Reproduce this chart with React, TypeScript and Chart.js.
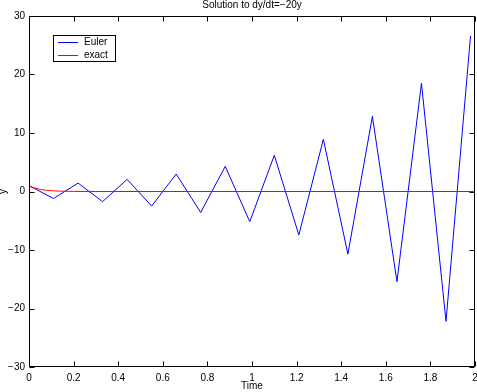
import React, { useEffect, useRef } from "react";
import { Chart, registerables } from "chart.js";

Chart.register(...registerables);

const eulerT = [0, 0.11, 0.22, 0.33, 0.44, 0.55, 0.66, 0.77, 0.88, 0.99, 1.1, 1.21, 1.32, 1.43, 1.54, 1.65, 1.76, 1.87, 1.98];
const eulerY = [1, -1.2, 1.44, -1.73, 2.07, -2.49, 2.99, -3.58, 4.3, -5.16, 6.19, -7.43, 8.92, -10.7, 12.84, -15.41, 18.49, -22.19, 26.62];
const exactT = [0, 0.01, 0.02, 0.03, 0.04, 0.05, 0.06, 0.07, 0.08, 0.09, 0.1, 0.12, 0.14, 0.16, 0.18, 0.2, 0.3, 2.0];
const exactY = [1, 0.819, 0.67, 0.549, 0.449, 0.368, 0.301, 0.247, 0.202, 0.165, 0.135, 0.091, 0.061, 0.041, 0.027, 0.018, 0.0025, 0];
const xTickLabels = ["0", "0.2", "0.4", "0.6", "0.8", "1", "1.2", "1.4", "1.6", "1.8", "2"];
const yTickLabels = ["\u221230", "\u221220", "\u221210", "0", "10", "20", "30"];
const seriesNames = ["Euler", "exact"];
const seriesColors = ["#0000ff", "#ff0000"];
const titleText = "Solution to dy/dt=\u221220y";
const xTitle = "Time";
const yTitle = "y";

const FONT = "Helvetica, 'Liberation Sans', Arial, sans-serif";

const framePlugin = {
  id: "frame",
  afterDraw(chart: any) {
    const ctx = chart.ctx;
    const a = chart.chartArea;
    const xs = chart.scales.x;
    const ys = chart.scales.y;
    ctx.save();
    ctx.strokeStyle = "#000";
    ctx.lineWidth = 1;
    const L = Math.round(a.left) + 0.5;
    const R = Math.round(a.right) - 0.5;
    const T = Math.round(a.top) + 0.5;
    const B = Math.round(a.bottom) - 0.5;
    ctx.beginPath();
    ctx.rect(L, T, R - L, B - T);
    ctx.stroke();
    const tl = 5;
    ctx.beginPath();
    xs.ticks.forEach((t: any) => {
      const px = Math.round(xs.getPixelForValue(t.value)) + 0.5;
      ctx.moveTo(px, B);
      ctx.lineTo(px, B - tl);
      ctx.moveTo(px, T);
      ctx.lineTo(px, T + tl);
    });
    ys.ticks.forEach((t: any) => {
      const py = Math.round(ys.getPixelForValue(t.value)) + 0.5;
      ctx.moveTo(L, py);
      ctx.lineTo(L + tl, py);
      ctx.moveTo(R, py);
      ctx.lineTo(R - tl, py);
    });
    ctx.stroke();

    // title
    ctx.fillStyle = "#000";
    ctx.font = `10px ${FONT}`;
    ctx.textAlign = "center";
    ctx.textBaseline = "middle";
    ctx.fillText(titleText, (a.left + a.right) / 2, 5);

    // legend
    const lx = 53.5, ly = 35.5, lw = 62, lh = 26;
    ctx.fillStyle = "#fff";
    ctx.fillRect(lx, ly, lw, lh);
    ctx.strokeStyle = "#000";
    ctx.strokeRect(lx, ly, lw, lh);
    seriesNames.forEach((name, i) => {
      const yy = 42 + i * 13;
      ctx.fillStyle = seriesColors[i];
      ctx.fillRect(58, yy, 20, 1);
      ctx.fillStyle = "#000";
      ctx.textAlign = "left";
      ctx.textBaseline = "middle";
      ctx.fillText(name, 84, yy + 0.5);
    });
    ctx.restore();
  },
};

export default function App() {
  const ref = useRef<HTMLCanvasElement | null>(null);
  useEffect(() => {
    if (!ref.current) return;
    const chart = new Chart(ref.current, {
      type: "line",
      data: {
        datasets: [
          {
            label: seriesNames[0],
            data: eulerT.map((t, i) => ({ x: t, y: eulerY[i] })),
            borderColor: seriesColors[0],
            borderWidth: 1,
            pointRadius: 0,
            tension: 0,
            order: 1,
          },
          {
            label: seriesNames[1],
            data: exactT.map((t, i) => ({ x: t, y: exactY[i] })),
            borderColor: seriesColors[1],
            borderWidth: 1,
            pointRadius: 0,
            tension: 0,
            order: 0,
          },
        ],
      },
      options: {
        responsive: false,
        animation: false,
        devicePixelRatio: 1,
        layout: { padding: { top: 16, right: 2, left: 0, bottom: 0 } },
        plugins: { legend: { display: false }, tooltip: { enabled: false }, title: { display: false } },
        scales: {
          x: {
            type: "linear",
            min: 0,
            max: 2,
            grid: { display: false, drawTicks: false },
            border: { display: false },
            ticks: {
              stepSize: 0.2,
              maxRotation: 0,
              autoSkip: false,
              padding: 5,
              color: "#000",
              font: { family: FONT, size: 10 },
              callback: (_v: any, i: number) => xTickLabels[i],
            },
            title: { display: true, text: xTitle, color: "#000", font: { family: FONT, size: 10 }, padding: { top: -3, bottom: 0 } },
            afterFit: (s: any) => { s.height = 25; s.paddingLeft = 0; s.paddingRight = 0; },
          },
          y: {
            type: "linear",
            min: -30,
            max: 30,
            grid: { display: false, drawTicks: false },
            border: { display: false },
            ticks: {
              stepSize: 10,
              padding: 4,
              color: "#000",
              font: { family: FONT, size: 10 },
              callback: (_v: any, i: number) => yTickLabels[i],
            },
            title: { display: true, text: yTitle, color: "#000", font: { family: FONT, size: 10 }, padding: { top: -3, bottom: 0 } },
            afterFit: (s: any) => { s.width = 29; s.paddingTop = 0; s.paddingBottom = 0; },
          },
        },
      },
      plugins: [framePlugin],
    });
    return () => chart.destroy();
  }, []);
  return (
    <div style={{ position: "absolute", left: 0, top: 0, width: 477, height: 392, background: "#fff" }}>
      <canvas ref={ref} width={477} height={392} />
    </div>
  );
}
